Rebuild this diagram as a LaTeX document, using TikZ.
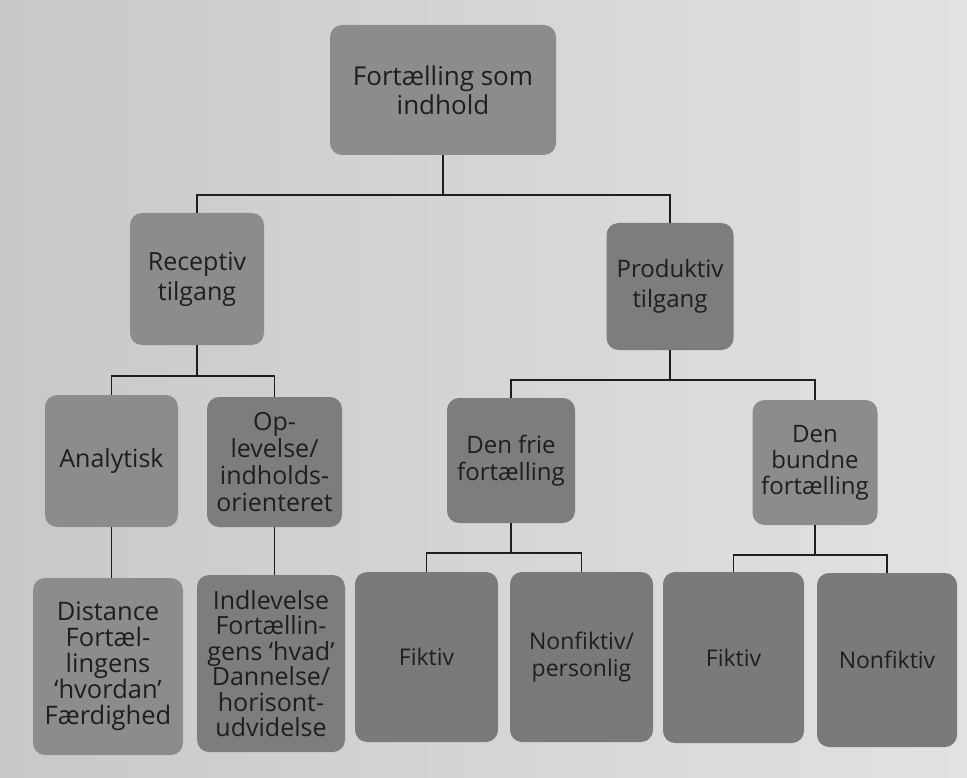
\documentclass[tikz,border=0pt]{standalone}
\usepackage{fontspec}
\setmainfont{Open Sans}
\definecolor{paperl}{RGB}{200,200,198}
\definecolor{paperr}{RGB}{226,226,224}
\definecolor{boxa}{RGB}{140,140,140}
\definecolor{boxb}{RGB}{125,125,125}
\definecolor{boxc}{RGB}{122,122,122}
\definecolor{ink}{RGB}{30,30,30}
\begin{document}
\begin{tikzpicture}[x=1pt,y=-1pt,
  box/.style={fill=boxa, rounded corners=12pt, align=center, text=ink, inner sep=1pt},
  dbox/.style={box, fill=boxb},
  cbox/.style={box, fill=boxc},
  fs/.style 2 args={font=\fontsize{#1}{#2}\selectfont},
  wire/.style={draw=ink, line width=1.6pt}]
\shade[left color=paperl, right color=paperr] (0,0) rectangle (967,778);
\useasboundingbox (0,0) rectangle (967,778);
% level 0
\node[box, fs={26}{29}, minimum width=226pt, minimum height=130pt] (root) at (443,90) {Fortælling som\\indhold};
% level 1
\node[box, fs={25}{30}, minimum width=134pt, minimum height=132pt] (rec) at (197,279) {Receptiv\\tilgang};
\node[dbox, fs={24}{30}, minimum width=127pt, minimum height=127pt] (prod) at (670,286.5) {Produktiv\\tilgang};
% level 2
\node[box, fs={25}{27}, minimum width=133pt, minimum height=132pt] (ana) at (111.5,461) {Analytisk};
\node[dbox, fs={25}{27}, minimum width=135pt, minimum height=130pt] (opl) at (274.5,462) {Op-\\levelse/\\indholds-\\orienteret};
\node[dbox, fs={24}{27}, minimum width=128pt, minimum height=125pt] (frie) at (511,460.5) {Den frie\\fortælling};
\node[box, fs={24}{26}, minimum width=125pt, minimum height=125pt] (bund) at (815,462.5) {Den\\bundne\\fortælling};
% level 3
\node[box, fs={25.5}{26}, minimum width=150pt, minimum height=177pt] (dist) at (108,666.5) {Distance\\Fortæl-\\lingens\\‘hvordan’\\Færdighed};
\node[dbox, fs={25}{25.5}, minimum width=148pt, minimum height=177pt] (indl) at (271,663.5) {Indlevelse\\Fortællin-\\gens ‘hvad’\\Dannelse/\\horisont-\\udvidelse};
\node[cbox, fs={23}{27}, minimum width=143pt, minimum height=170pt] (fik1) at (426.5,657) {Fiktiv};
\node[cbox, fs={23}{27}, minimum width=143pt, minimum height=170pt] (nfp) at (581.5,657) {Nonfiktiv/\\personlig};
\node[cbox, fs={23}{27}, minimum width=141pt, minimum height=171pt] (fik2) at (733.5,657.5) {Fiktiv};
\node[cbox, fs={23}{27}, minimum width=140pt, minimum height=174pt] (nfk) at (887,660) {Nonfiktiv};
% connectors
\coordinate (j0) at (443,195);
\coordinate (j1) at (197,376);
\coordinate (j2) at (670,380);
\coordinate (j3) at (511,553);
\coordinate (j4) at (815,555);
\draw[wire] (root.south) -- (j0);
\draw[wire] (rec.north) |- (j0) -| (prod.north);
\draw[wire] (rec.south) -- (j1);
\draw[wire] (ana.north) |- (j1) -| (opl.north);
\draw[wire] (prod.south) -- (j2);
\draw[wire] (frie.north) |- (j2) -| (bund.north);
\draw[wire] (ana.south) -- (ana.south |- dist.north);
\draw[wire] (indl.north -| opl.south) -- (opl.south);
\draw[wire] (frie.south) -- (j3);
\draw[wire] (fik1.north) |- (j3) -| (nfp.north);
\draw[wire] (bund.south) -- (j4);
\draw[wire] (fik2.north) |- (j4) -| (nfk.north);
\end{tikzpicture}
\end{document}
